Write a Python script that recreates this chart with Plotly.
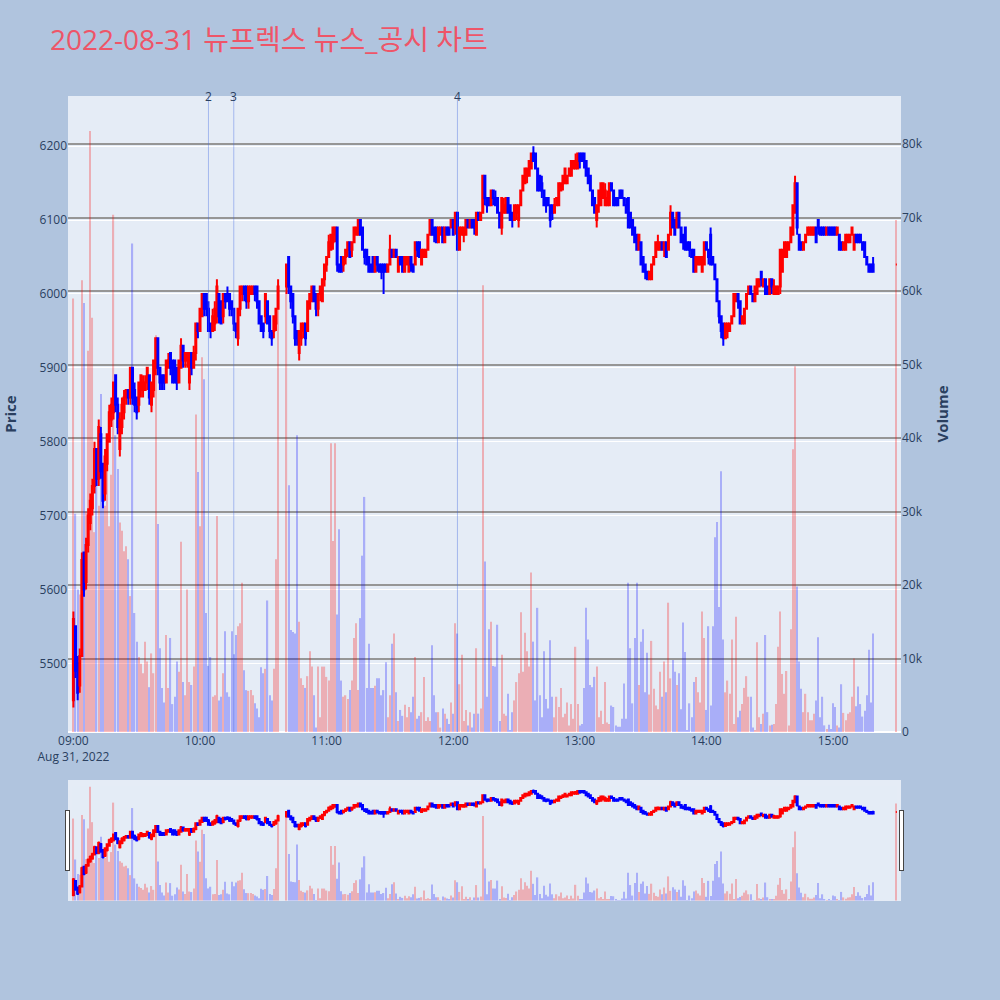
import datetime as dt
import plotly.graph_objects as go
from plotly.subplots import make_subplots

# ---------------- data (1-minute candles, 2022-08-31) ----------------
# minute offsets from 09:00 that had no trades (VI halt) and the 15:30 closing auction
halted_minutes = [98, 99, 100]
closing_auction_minute = 390

O09 = [5450,5550,5500,5470,5510,5650,5610,5660,5690,5710,
       5740,5790,5750,5810,5770,5730,5770,5800,5830,5840,
       5890,5850,5790,5820,5840,5860,5870,5860,5900,5870,
       5860,5850,5870,5870,5870,5880,5890,5850,5870,5900,
       5940,5900,5890,5890,5880,5900,5920,5910,5910,5900,
       5880,5900,5930,5910,5910,5880,5920,5900,5920,5960]
H09 = [5570,5550,5510,5520,5650,5650,5670,5710,5730,5750,
       5800,5790,5830,5820,5770,5790,5810,5850,5860,5880,
       5890,5860,5840,5860,5870,5870,5870,5900,5900,5880,
       5860,5880,5890,5890,5890,5900,5890,5880,5910,5940,
       5940,5900,5890,5890,5910,5920,5920,5910,5910,5900,
       5910,5940,5930,5920,5920,5920,5920,5930,5960,5960]
L09 = [5440,5480,5450,5460,5510,5590,5600,5650,5680,5700,
       5730,5740,5740,5750,5710,5720,5760,5800,5820,5830,
       5840,5810,5780,5810,5830,5850,5850,5850,5850,5840,
       5830,5840,5860,5860,5870,5870,5850,5840,5860,5890,
       5890,5870,5870,5870,5880,5900,5890,5880,5880,5870,
       5880,5900,5900,5900,5900,5870,5890,5900,5910,5940]
C09 = [5560,5490,5460,5510,5640,5600,5660,5700,5720,5740,
       5790,5750,5820,5760,5720,5780,5810,5840,5850,5880,
       5850,5820,5830,5850,5860,5870,5860,5900,5860,5850,
       5840,5880,5890,5880,5880,5900,5860,5880,5910,5940,
       5900,5880,5880,5880,5910,5910,5900,5880,5880,5880,
       5910,5930,5910,5920,5920,5920,5900,5920,5960,5950]
V09 = [59000,29700,19400,18700,61500,58400,30000,51900,81800,56400,
       27200,35400,30800,46000,30600,30800,37200,28000,35000,70400,
       40400,35800,28500,27400,24600,25300,23500,18500,66500,16200,
       12300,10200,9300,8000,12300,9600,6100,10700,8000,54000,
       28300,11400,6000,4000,13200,6000,12800,3800,4800,9600,
       8200,25900,6800,5000,19400,6800,6400,8900,43200,35400]

O10 = [5950,5970,6000,6000,5980,5960,5950,5960,5970,6000,
       5990,5970,6000,6000,6000,5990,5980,5960,5940,5980,
       6000,6010,6010,5990,6000,6000,6010,6010,5990,5970,
       5960,5970,5990,5970,5950,5950,5960,5980,
       6010,6050,6010,6000,5970,5950,5920,5940,5950,5960,
       5950,5980,5990,6010,6000,5980,6000,5990,6020]
H10 = [5980,6000,6000,6000,5990,5960,5980,5990,6020,6000,
       5990,6000,6000,6010,6000,5990,5980,5960,5980,6010,
       6010,6010,6010,6010,6010,6010,6010,6010,5990,5970,
       5960,6000,5990,5970,5950,5970,5980,6020,
       6040,6050,6010,6000,5970,5950,5950,5960,5960,5960,
       5990,6000,6010,6010,6000,6000,6010,6020,6040]
L10 = [5950,5970,5970,5970,5950,5940,5950,5950,5960,5960,
       5960,5960,5980,5990,5970,5970,5950,5940,5930,5970,
       5990,5990,5980,5980,6000,6000,5990,5980,5960,5950,
       5940,5960,5960,5940,5930,5940,5950,5980,
       6000,6000,5980,5960,5930,5930,5910,5930,5940,5930,
       5950,5980,5990,5990,5970,5970,5990,5990,6010]
C10 = [5980,6000,5980,5980,5950,5950,5970,5980,6010,5970,
       5960,6000,5990,5990,5980,5980,5960,5950,5980,6010,
       6010,6000,5990,6010,6010,6010,6000,5990,5960,5950,
       5950,6000,5960,5950,5940,5970,5980,6010,
       6040,6010,5990,5970,5940,5940,5950,5960,5960,5940,
       5990,6000,6010,5990,5980,6000,6010,6020,6040]
V10 = [28000,51000,48000,16200,9000,10200,4800,5000,29400,4300,
       4800,8000,13700,5400,4800,13700,10600,13200,14400,14800,
       20300,8400,5700,5600,5700,5000,3900,3200,2000,8800,
       8000,8600,17900,5000,4300,8600,23500,60500,
       59900,33600,13900,13600,13400,40400,15000,7300,6400,6000,
       7600,11000,8900,5000,600,8900,2000,8900,8900]

O11 = [6040,6050,6060,6070,6080,6090,6040,6050,6040,6050,
       6060,6070,6060,6070,6080,6080,6100,6090,6060,6060,
       6050,6040,6050,6030,6050,6040,6040,6040,6040,6030,
       6040,6060,6050,6060,6030,6050,6050,6030,6040,6030,
       6050,6040,6040,6070,6070,6040,6050,6050,6060,6080,
       6100,6090,6090,6070,6080,6090,6070,6090,6090,6090]
H11 = [6050,6080,6080,6090,6090,6090,6040,6050,6050,6060,
       6070,6070,6070,6090,6090,6100,6100,6090,6060,6060,
       6050,6040,6050,6050,6050,6040,6040,6040,6040,6040,
       6080,6060,6060,6060,6050,6050,6050,6050,6050,6050,
       6050,6040,6070,6070,6070,6060,6060,6060,6080,6100,
       6100,6090,6090,6090,6090,6090,6090,6090,6090,6100]
L11 = [6030,6050,6060,6060,6070,6030,6030,6030,6030,6040,
       6050,6050,6050,6070,6080,6080,6080,6060,6040,6040,
       6030,6030,6030,6030,6030,6030,6020,6000,6030,6030,
       6040,6050,6050,6050,6030,6040,6030,6030,6040,6030,
       6030,6030,6040,6050,6050,6040,6050,6050,6060,6080,
       6080,6070,6070,6070,6080,6070,6070,6080,6080,6090]
C11 = [6050,6070,6080,6090,6090,6040,6030,6030,6050,6060,
       6070,6050,6070,6090,6090,6100,6080,6060,6050,6040,
       6030,6030,6030,6050,6040,6030,6030,6030,6030,6040,
       6060,6050,6060,6050,6050,6040,6030,6050,6050,6050,
       6040,6030,6070,6060,6050,6060,6060,6060,6080,6100,
       6080,6080,6070,6090,6090,6070,6090,6080,6080,6100]
V11 = [7500,7000,39300,26000,39300,16000,27600,7000,4800,5000,
       4500,5700,7000,12800,14800,5700,15500,24000,32000,6000,
       12000,6000,6000,6300,7300,7300,5000,5700,9500,2000,
       5000,12000,13400,5400,1500,3000,2200,3700,2000,3400,
       2700,4800,10200,1800,2200,2700,7500,1500,2000,1500,
       11800,5000,2700,2700,600,3200,2500,1800,1100,4000]

O12 = [6100,6090,6110,6060,6080,6080,6080,6100,6090,6100,
       6100,6080,6110,6100,6110,6160,6130,6130,6120,6140,
       6130,6130,6110,6090,6110,6110,6130,6120,6110,6100,
       6110,6100,6120,6140,6150,6160,6160,6170,6190,6190,
       6170,6160,6150,6140,6130,6130,6120,6120,6110,6120,
       6120,6140,6150,6150,6150,6160,6160,6170,6170,6170]
H12 = [6100,6110,6110,6090,6090,6090,6100,6100,6100,6100,
       6100,6110,6110,6110,6160,6160,6130,6130,6140,6140,
       6140,6130,6110,6130,6130,6130,6130,6120,6110,6120,
       6120,6120,6140,6160,6170,6170,6180,6190,6200,6190,
       6170,6160,6160,6140,6130,6130,6120,6120,6130,6130,
       6150,6150,6160,6170,6160,6170,6180,6180,6190,6190]
L12 = [6080,6080,6060,6060,6080,6070,6080,6090,6090,6090,
       6080,6080,6100,6100,6110,6120,6110,6120,6120,6120,
       6120,6110,6090,6080,6110,6110,6110,6100,6090,6100,
       6100,6090,6120,6140,6150,6150,6160,6170,6180,6170,
       6140,6140,6130,6120,6110,6120,6090,6100,6110,6120,
       6120,6140,6140,6150,6150,6160,6160,6170,6170,6170]
C12 = [6080,6110,6060,6090,6090,6090,6100,6090,6100,6090,
       6090,6110,6100,6110,6160,6130,6120,6120,6140,6130,
       6120,6110,6090,6130,6120,6130,6110,6100,6100,6120,
       6120,6120,6140,6160,6170,6170,6180,6190,6180,6170,
       6140,6140,6140,6120,6120,6120,6100,6110,6120,6130,
       6150,6150,6160,6170,6160,6170,6180,6180,6180,6190]
V12 = [2500,14800,13400,6500,10500,1500,3000,900,2700,600,
       2500,11400,2500,3200,60800,23200,4800,14000,15000,9000,
       8900,14600,1500,10500,2500,2200,5200,200,2700,4300,
       6800,8000,16300,8200,13500,11000,8900,21700,12300,4300,
       16900,5000,2000,11000,4500,3200,12500,4800,2000,4800,
       3400,6000,2000,2500,4000,900,3800,1800,11600,3800]

O13 = [6190,6190,6190,6180,6170,6160,6140,6130,6100,6120,
       6120,6130,6120,6120,6120,6150,6140,6130,6130,6140,
       6140,6130,6120,6130,6110,6100,6090,6080,6060,6070,
       6050,6040,6030,6020,6020,6040,6050,6060,6060,6070,
       6060,6070,6060,6080,6110,6100,6090,6110,6090,6080,
       6090,6070,6070,6060,6060,6030,6040,6040,6030,6040]
H13 = [6190,6190,6190,6180,6170,6160,6140,6130,6120,6140,
       6150,6150,6150,6140,6150,6150,6140,6130,6130,6140,
       6140,6130,6130,6130,6110,6100,6090,6080,6080,6070,
       6050,6040,6030,6030,6040,6050,6070,6080,6070,6070,
       6070,6070,6080,6120,6110,6100,6110,6110,6090,6080,
       6090,6070,6070,6060,6060,6050,6050,6050,6050,6070]
L13 = [6170,6180,6170,6160,6150,6140,6120,6110,6090,6110,
       6120,6130,6120,6120,6120,6140,6120,6120,6120,6130,
       6130,6120,6110,6090,6090,6080,6070,6060,6060,6040,
       6030,6020,6020,6020,6020,6040,6050,6060,6060,6060,
       6050,6050,6060,6080,6090,6080,6090,6090,6070,6060,
       6060,6060,6050,6050,6030,6030,6040,6040,6030,6040]
C13 = [6180,6180,6180,6160,6150,6140,6120,6110,6120,6140,
       6150,6150,6140,6130,6150,6140,6120,6120,6120,6130,
       6130,6120,6110,6090,6090,6080,6070,6060,6080,6040,
       6030,6030,6020,6030,6040,6050,6070,6070,6070,6060,
       6070,6050,6080,6110,6090,6080,6110,6090,6070,6070,
       6060,6060,6060,6050,6030,6050,6050,6050,6050,6070]
V13 = [900,1100,6000,16900,12600,6400,6100,7500,8900,2000,
       2900,1100,6800,1300,1100,3600,3400,900,700,700,
       1800,6600,1800,20300,11400,3900,12800,20300,6400,12300,
       14000,5400,10800,5100,12400,5900,3600,3100,8200,4800,
       9600,5400,17600,7300,9800,8200,6400,8000,3100,14900,
       10900,200,3900,2000,6800,7500,5400,4000,16400,12800]

O14 = [6070,6060,6080,6050,6040,6020,5990,5970,5960,5940,
       5950,5950,5960,5970,5990,6000,5990,5960,5960,5980,
       6000,6010,6000,5990,6000,6010,6030,6010,6020,6010,
       6000,6020,6000,6000,6000,6010,6030,6050,6050,6060,
       6070,6080,6110,6150,6080,6070,6060,6070,6080,6080,
       6080,6080,6090,6100,6090,6090,6090,6080,6090,6090]
H14 = [6070,6060,6090,6050,6040,6020,5990,5970,5960,5960,
       5960,5960,5970,6000,6000,6000,5990,5970,5980,6000,
       6010,6010,6000,6010,6020,6020,6030,6020,6020,6010,
       6020,6020,6020,6010,6010,6060,6060,6070,6070,6070,
       6090,6120,6160,6150,6080,6070,6070,6080,6090,6090,
       6090,6090,6090,6100,6090,6090,6090,6090,6090,6090]
L14 = [6060,6040,6040,6040,6020,5990,5960,5940,5930,5940,
       5940,5950,5960,5970,5990,5980,5960,5960,5960,5980,
       6000,6000,5990,5990,6000,6010,6010,6010,6000,6000,
       6000,6000,6000,6000,6000,6000,6030,6050,6050,6060,
       6070,6080,6110,6080,6060,6060,6060,6070,6080,6080,
       6080,6080,6070,6080,6080,6080,6080,6080,6080,6080]
C14 = [6060,6050,6040,6040,6020,5990,5970,5950,5940,5960,
       5960,5960,5970,6000,6000,5990,5960,5970,5980,6000,
       6010,6000,5990,6010,6020,6020,6020,6020,6000,6000,
       6020,6010,6010,6010,6010,6060,6060,6070,6070,6070,
       6090,6120,6150,6090,6060,6060,6070,6080,6090,6090,
       6090,6090,6070,6090,6080,6080,6080,6090,6080,6080]
V14 = [3000,14400,3600,14400,26500,28600,17000,35500,12600,5400,
       7000,5200,12600,1100,15700,2000,2900,3800,6000,7600,
       4800,4800,600,200,12200,2000,1100,2500,13200,2700,
       900,1000,1100,3800,11600,16400,7900,5200,8300,900,
       14000,38500,49800,19800,9600,5900,2700,5200,2700,1600,
       1600,2500,4300,12900,2000,4800,900,400,1000,400]

# 15:00-15:19 continuous trading, last entry = 15:30 closing auction
O15 = [6090,6090,6080,6080,6070,6060,6060,6070,6070,6080,
       6060,6080,6080,6080,6070,6070,6050,6040,6040,6040, 6040]
H15 = [6090,6090,6090,6080,6070,6070,6080,6080,6080,6090,
       6080,6080,6080,6080,6070,6070,6050,6040,6040,6050, 6040]
L15 = [6080,6080,6080,6060,6060,6060,6060,6070,6070,6080,
       6060,6070,6070,6070,6060,6050,6040,6030,6030,6030, 6040]
C15 = [6080,6080,6090,6060,6060,6070,6080,6080,6080,6090,
       6080,6070,6070,6070,6060,6050,6040,6030,6030,6030, 6040]
V15 = [3900,3400,900,600,6500,2600,1600,2500,2700,4800,
       10000,3500,6200,3800,2100,2900,5000,11200,4000,13400, 69700]

news_times = ["2022-08-31 10:04", "2022-08-31 10:16", "2022-08-31 12:02"]
news_labels = ["2", "3", "4"]

title_text = "2022-08-31 뉴프렉스 뉴스_공시 차트"

# ---------------- assemble ----------------
opens = O09 + O10 + O11 + O12 + O13 + O14 + O15
highs = H09 + H10 + H11 + H12 + H13 + H14 + H15
lows = L09 + L10 + L11 + L12 + L13 + L14 + L15
closes = C09 + C10 + C11 + C12 + C13 + C14 + C15
volumes = V09 + V10 + V11 + V12 + V13 + V14 + V15

minute_offsets = [m for m in range(0, 380) if m not in halted_minutes] + [closing_auction_minute]
base = dt.datetime(2022, 8, 31, 9, 0)
times = [base + dt.timedelta(minutes=m) for m in minute_offsets]

n = len(times)
assert all(len(a) == n for a in (opens, highs, lows, closes, volumes)), \
    [len(a) for a in (times, opens, highs, lows, closes, volumes)]

vol_colors = ["red" if c >= o else "blue" for o, c in zip(opens, closes)]

fig = make_subplots(specs=[[{"secondary_y": True}]])

fig.add_trace(go.Candlestick(
    x=times, open=opens, high=highs, low=lows, close=closes,
    increasing=dict(line=dict(color="red", width=2), fillcolor="red"),
    decreasing=dict(line=dict(color="blue", width=2), fillcolor="blue"),
    showlegend=False, name="Price"), secondary_y=False)

fig.add_trace(go.Bar(
    x=times, y=volumes, marker=dict(color=vol_colors, line=dict(width=0)),
    opacity=0.26, showlegend=False, name="Volume"), secondary_y=True)

x_range = ["2022-08-31 08:57:26", "2022-08-31 15:32:13"]

for t, lab in zip(news_times, news_labels):
    fig.add_shape(type="line", x0=t, x1=t, xref="x", yref="paper", y0=0, y1=1,
                  line=dict(color="rgba(65,105,225,0.4)", width=1))
    fig.add_annotation(x=t, y=1, xref="x", yref="paper", text=lab, showarrow=False,
                       yanchor="middle", xanchor="center",
                       font=dict(size=12, color="#2a3f5f"))

fig.update_layout(
    width=1000, height=1000,
    paper_bgcolor="#B0C4DE",
    plot_bgcolor="#E5ECF6",
    margin=dict(l=68, r=99, t=96, b=100),
    title=dict(text=title_text, x=0.05, xanchor="left", y=0.96, yanchor="middle",
               font=dict(size=28, color="#EE5568",
                         family="Open Sans, Noto Sans CJK KR, sans-serif")),
    showlegend=False,
    bargap=0.4,
)

fig.update_xaxes(
    type="date", range=x_range, showgrid=False, domain=[0, 1],
    rangeslider=dict(visible=True, range=x_range, bgcolor="#E5ECF6"),
)
fig.update_yaxes(
    title=dict(text="Price", font=dict(size=15, weight="bold"), standoff=20),
    range=[5407, 6268], dtick=100, gridcolor="white", automargin=False,
    secondary_y=False,
)
fig.update_yaxes(
    title=dict(text="Volume", font=dict(size=15, weight="bold")),
    range=[0, 86570], dtick=10000, gridcolor="rgb(150,150,150)", gridwidth=2,
    showgrid=True, automargin=False, secondary_y=True,
)

fig.write_html("out.html", config={"displayModeBar": False},
               post_script="document.body.style.margin='0px';")
